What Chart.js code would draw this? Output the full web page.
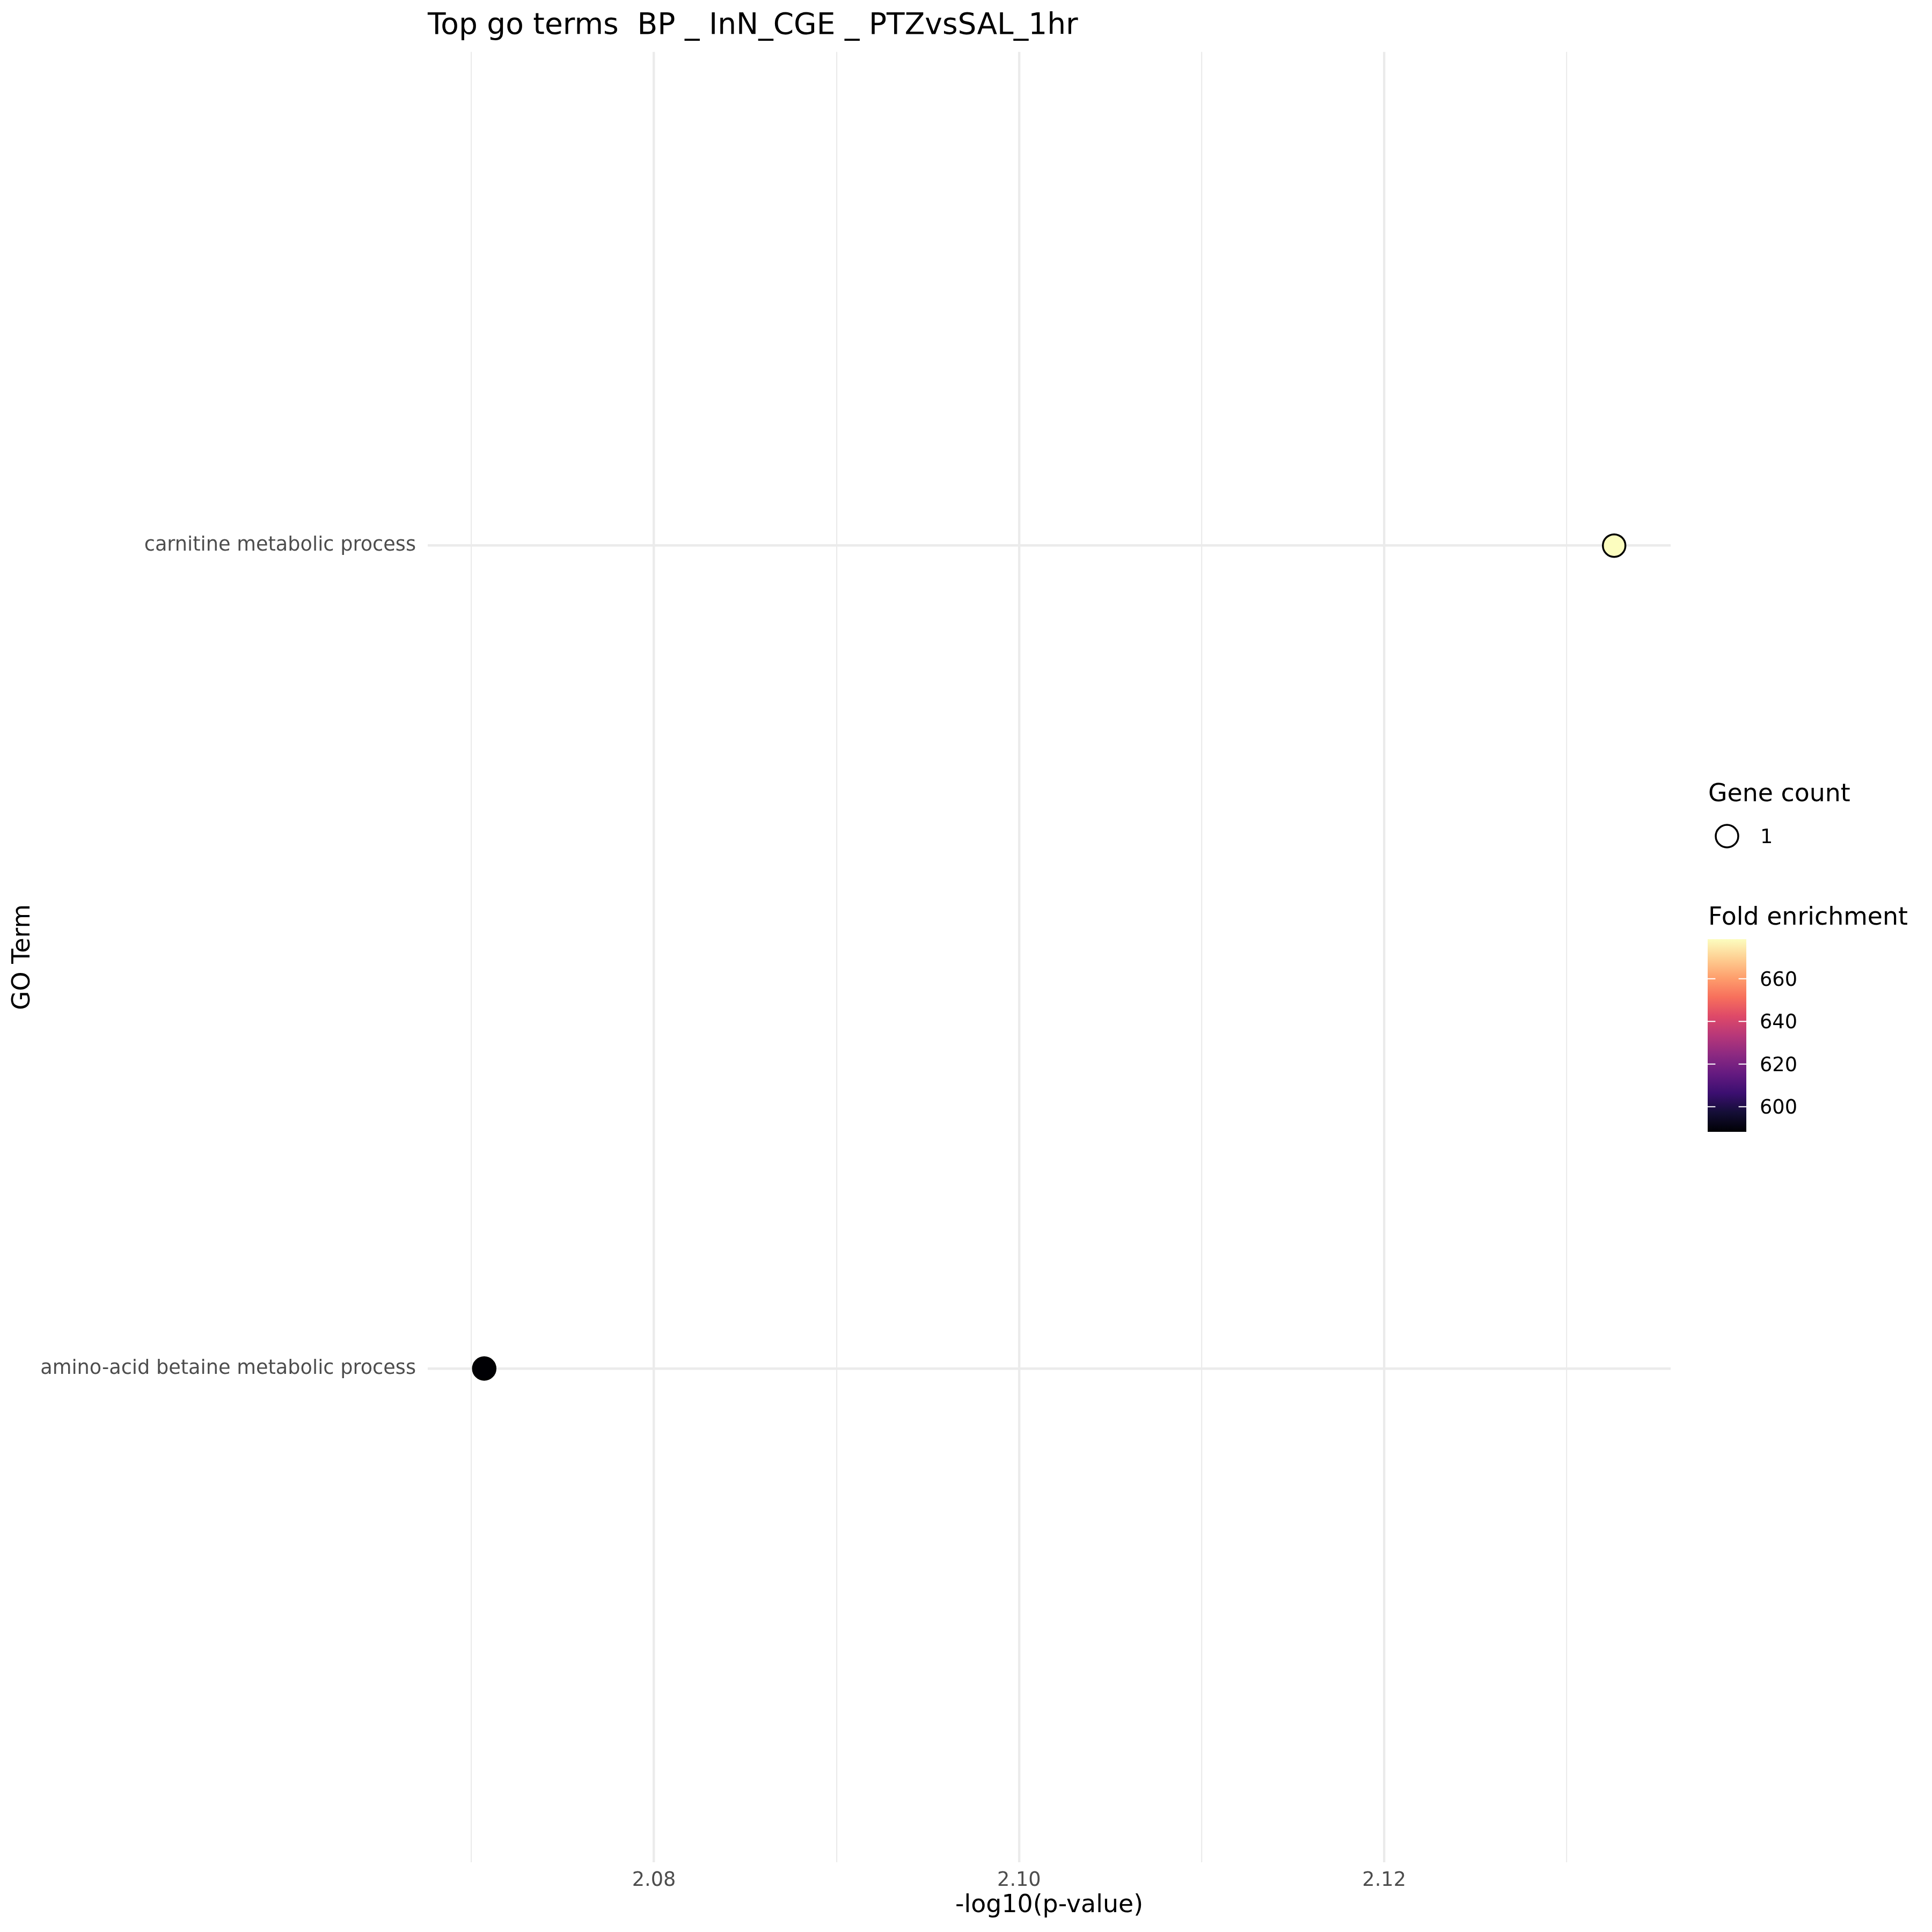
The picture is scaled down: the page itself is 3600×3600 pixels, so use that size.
<!DOCTYPE html>
<html>
<head>
<meta charset="utf-8">
<script src="https://cdn.jsdelivr.net/npm/chart.js@4/dist/chart.umd.min.js"></script>
<style>
  html, body { margin: 0; padding: 0; background: #ffffff; }
  #wrap { width: 3600px; height: 3600px; }
</style>
</head>
<body>
<div id="wrap"><canvas id="c" width="3600" height="3600"></canvas></div>
<script>
// ---------- data ----------
const titleText = "Top go terms  BP _ InN_CGE _ PTZvsSAL_1hr";
const categories = ["amino-acid betaine metabolic process", "carnitine metabolic process"];
const negLog10P = [2.0707, 2.1326];
const foldEnrichment = [588.2, 678.6];
const geneCount = [1, 1];
const xMajorTicks = [2.08, 2.10, 2.12];
const xMinorTicks = [2.07, 2.09, 2.11, 2.13];
const colorbarTicks = [600, 620, 640, 660];
const sizeLegendValues = [1];
const xAxisTitle = "-log10(p-value)";
const yAxisTitle = "GO Term";
const sizeLegendTitle = "Gene count";
const colorLegendTitle = "Fold enrichment";

// ---------- magma colormap ----------
const magmaStops = ["#000004","#140e36","#3b0f70","#641a80","#8c2981","#b73779","#de4968","#f7705c","#fe9f6d","#fecf92","#fcfdbf"];
function hexToRgb(h){ return [parseInt(h.slice(1,3),16),parseInt(h.slice(3,5),16),parseInt(h.slice(5,7),16)]; }
function magma(t){
  t = Math.max(0, Math.min(1, t));
  const n = magmaStops.length - 1;
  const i = Math.min(n - 1, Math.floor(t * n));
  const f = t * n - i;
  const a = hexToRgb(magmaStops[i]), b = hexToRgb(magmaStops[i+1]);
  const c = a.map((v,k)=>Math.round(v + (b[k]-v)*f));
  return `rgb(${c[0]},${c[1]},${c[2]})`;
}
const fMin = Math.min(...foldEnrichment), fMax = Math.max(...foldEnrichment);
const pointColors = foldEnrichment.map(v => magma((v - fMin) / (fMax - fMin)));

// ---------- scale limits (ggplot-style expansion) ----------
const xLo = Math.min(...negLog10P), xHi = Math.max(...negLog10P);
const xPad = (xHi - xLo) * 0.05;
const FONT = "DejaVu Sans";
const PX = 300 / 72; // pt -> px at 300 dpi

Chart.defaults.font.family = FONT;

const isMajor = v => xMajorTicks.some(m => Math.abs(m - v) < 1e-6);

const legendPlugin = {
  id: 'ggLegend',
  afterDraw(chart) {
    const ctx = chart.ctx;
    ctx.save();
    // title
    ctx.fillStyle = '#000000';
    ctx.textAlign = 'left';
    ctx.textBaseline = 'alphabetic';
    ctx.font = `${13.2*PX}px "${FONT}"`;
    ctx.fillText(titleText, chart.chartArea.left, 63);

    const lx = 3183;
    // size legend
    ctx.font = `${11*PX}px "${FONT}"`;
    ctx.fillText(sizeLegendTitle, lx, 1493);
    sizeLegendValues.forEach((v, i) => {
      const cy = 1558 + i * 72;
      ctx.beginPath();
      ctx.arc(3218, cy, 21, 0, Math.PI * 2);
      ctx.lineWidth = 3.5;
      ctx.strokeStyle = '#000000';
      ctx.stroke();
      ctx.font = `${8.8*PX}px "${FONT}"`;
      ctx.textBaseline = 'alphabetic';
      ctx.fillText(String(v), 3280, cy + 13);
    });

    // colour legend
    ctx.font = `${11*PX}px "${FONT}"`;
    ctx.fillText(colorLegendTitle, lx, 1723);
    const bx = 3182, bw = 72, bTop = 1750, bBot = 2109;
    const grad = ctx.createLinearGradient(0, bBot, 0, bTop);
    magmaStops.forEach((c, i) => grad.addColorStop(i / (magmaStops.length - 1), c));
    ctx.fillStyle = grad;
    ctx.fillRect(bx, bTop, bw, bBot - bTop);
    ctx.font = `${8.8*PX}px "${FONT}"`;
    ctx.textBaseline = 'alphabetic';
    colorbarTicks.forEach(v => {
      const y = bBot - (v - fMin) / (fMax - fMin) * (bBot - bTop);
      ctx.strokeStyle = '#ffffff';
      ctx.lineWidth = 2;
      ctx.beginPath();
      ctx.moveTo(bx, y); ctx.lineTo(bx + bw / 5, y);
      ctx.moveTo(bx + bw, y); ctx.lineTo(bx + bw - bw / 5, y);
      ctx.stroke();
      ctx.fillStyle = '#000000';
      ctx.fillText(String(v), 3279, y + 13);
    });
    ctx.restore();
  }
};

new Chart(document.getElementById('c'), {
  type: 'scatter',
  data: {
    datasets: [{
      data: negLog10P.map((x, i) => ({ x: x, y: i + 1 })),
      backgroundColor: pointColors,
      borderColor: '#000000',
      borderWidth: 3.5,
      pointRadius: geneCount.map(g => 21 * Math.sqrt(g)),
      pointHoverRadius: geneCount.map(g => 21 * Math.sqrt(g)),
    }]
  },
  options: {
    responsive: false,
    animation: false,
    events: [],
    layout: { padding: { left: 0, top: 96.7, right: 487, bottom: 0 } },
    plugins: { legend: { display: false }, tooltip: { enabled: false }, title: { display: false } },
    scales: {
      x: {
        type: 'linear',
        min: xLo - xPad,
        max: xHi + xPad,
        afterBuildTicks: s => { s.ticks = [...xMinorTicks, ...xMajorTicks].sort((a,b)=>a-b).map(v => ({ value: v })); },
        afterFit: s => { s.height = 130; },
        border: { display: false },
        grid: {
          drawTicks: false,
          color: '#EBEBEB',
          lineWidth: c => (c.tick && isMajor(c.tick.value)) ? 4.4 : 2.2
        },
        ticks: {
          autoSkip: false, maxRotation: 0, padding: 12,
          color: '#4D4D4D',
          font: { size: 8.8 * PX, family: FONT },
          callback: v => isMajor(v) ? Number(v).toFixed(2) : ''
        },
        title: {
          display: true, text: xAxisTitle, color: '#000000',
          font: { size: 11 * PX, family: FONT },
          padding: { top: 0, bottom: 21 }
        }
      },
      y: {
        type: 'linear',
        min: 0.4,
        max: categories.length + 0.6,
        afterBuildTicks: s => { s.ticks = categories.map((c, i) => ({ value: i + 1 })); },
        afterFit: s => { s.width = 797; },
        border: { display: false },
        grid: { drawTicks: false, color: '#EBEBEB', lineWidth: 4.4 },
        ticks: {
          autoSkip: false, padding: 22,
          color: '#4D4D4D',
          font: { size: 8.8 * PX, family: FONT },
          callback: v => categories[Math.round(v) - 1] || ''
        },
        title: {
          display: true, text: yAxisTitle, color: '#000000',
          font: { size: 11 * PX, family: FONT },
          padding: { top: 16, bottom: 0 }
        }
      }
    }
  },
  plugins: [legendPlugin]
});
</script>
</body>
</html>
